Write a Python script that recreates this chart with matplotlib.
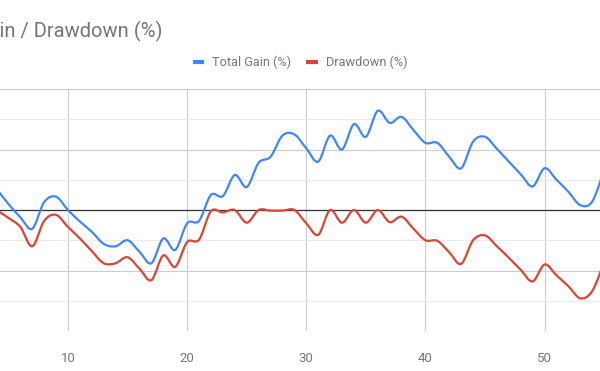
import numpy as np
import matplotlib.pyplot as plt
from matplotlib.path import Path
from matplotlib.patches import PathPatch
from matplotlib.lines import Line2D

plt.rcParams['font.family'] = ['Roboto', 'DejaVu Sans']

days = list(range(4, 56))
total_gain = [3.5, 1.0, -1.2, -3.1, 1.3, 2.2, 0.0, -1.9, -3.6, -5.6,
              -6.0, -5.0, -6.9, -8.8, -4.7, -6.6, -2.2, -1.8, 2.5, 2.3,
              5.8, 3.8, 7.8, 8.8, 12.3, 12.5, 10.2, 8.0, 12.3, 10.0,
              14.2, 12.1, 16.4, 14.4, 15.4, 13.2, 11.1, 11.1, 8.8, 6.9,
              11.3, 12.1, 10.1, 8.0, 5.9, 3.9, 6.9, 5.0, 3.0, 0.8,
              1.4, 6.6]
drawdown = [0.0, -1.3, -2.8, -6.0, -1.8, -0.8, -2.8, -4.7, -6.8, -8.8,
            -8.8, -7.8, -9.7, -11.6, -7.5, -9.4, -5.3, -4.9, -0.2, -0.4,
            0.0, -2.1, 0.0, -0.1, -0.1, 0.0, -2.2, -4.1, 0.0, -2.1,
            0.0, -2.1, 0.0, -2.0, -1.1, -3.1, -5.0, -5.1, -7.0, -8.9,
            -5.0, -4.2, -6.0, -7.9, -9.9, -11.8, -9.0, -10.8, -12.6, -14.6,
            -13.4, -8.6]
series_names = ["Total Gain (%)", "Drawdown (%)"]
colors = ["#4285F4", "#DB4437"]


def smooth_path(xs, ys):
    # smooth curve through the points (catmull-rom as bezier segments)
    pts = np.column_stack([xs, ys]).astype(float)
    padded = np.vstack([pts[0], pts, pts[-1]])
    verts = [pts[0]]
    codes = [Path.MOVETO]
    for i in range(len(pts) - 1):
        p0, p1, p2, p3 = padded[i], padded[i + 1], padded[i + 2], padded[i + 3]
        verts += [p1 + (p2 - p0) / 6, p2 - (p3 - p1) / 6, p2]
        codes += [Path.CURVE4] * 3
    return Path(verts, codes)


fig = plt.figure(figsize=(6, 3.71), dpi=100)
ax = fig.add_axes([0, 40 / 371, 1, 242 / 371])

for vals, col in zip([total_gain, drawdown], colors):
    ax.add_patch(PathPatch(smooth_path(days, vals), facecolor='none',
                           edgecolor=col, lw=1.6, zorder=3))

ax.set_xlim(4.293, 54.65)
ax.set_ylim(-20, 20)
ax.set_xticks([10, 20, 30, 40, 50])
ax.set_yticks([-20, -10, 0, 10, 20])
ax.set_yticks([-15, -5, 5, 15], minor=True)
ax.set_yticklabels([])
ax.tick_params(which='both', length=0)
ax.tick_params(axis='x', pad=15, labelsize=9.5, labelcolor='#757575')
ax.grid(True, which='major', color='#cccccc', lw=0.8)
ax.grid(True, which='minor', axis='y', color='#ebebeb', lw=0.8)
ax.set_axisbelow(True)
ax.axhline(0, color='#333333', lw=0.9, zorder=2)
for s in ax.spines.values():
    s.set_visible(False)

fig.text(163 / 600, 1 - 31 / 371, "Total Gain / Drawdown (%)", ha='right',
         va='center', fontsize=14.5, color='#757575')

handles = [Line2D([], [], color=c, lw=3, solid_capstyle='butt') for c in colors]
fig.legend(handles, series_names, loc='center', bbox_to_anchor=(0.5, 1 - 62.5 / 371),
           ncol=2, frameon=False, fontsize=9.2, labelcolor='#757575',
           handlelength=0.9, handletextpad=0.6, columnspacing=1.2)

fig.savefig("out.png", dpi=100)
